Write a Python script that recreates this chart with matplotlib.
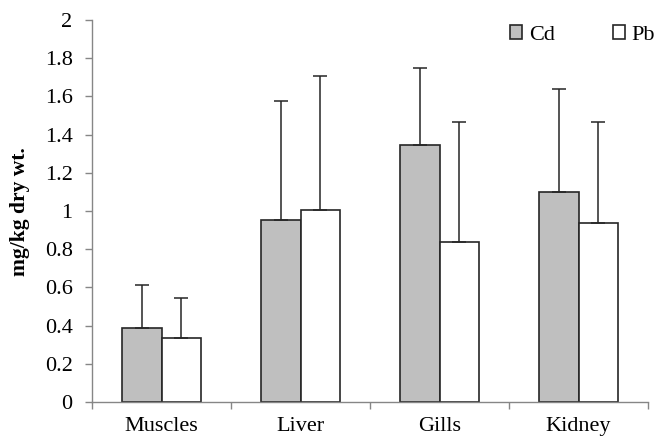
import numpy as np
import matplotlib
matplotlib.use("Agg")
import matplotlib.pyplot as plt

plt.rcParams["font.family"] = ["Liberation Serif", "DejaVu Serif"]

tissues = ["Muscles", "Liver", "Gills", "Kidney"]
cd_mean = [0.385, 0.955, 1.345, 1.10]
cd_err = [0.23, 0.62, 0.405, 0.54]
pb_mean = [0.337, 1.005, 0.837, 0.935]
pb_err = [0.208, 0.70, 0.627, 0.529]

fig = plt.figure(figsize=(6.55, 4.41), dpi=100)
ax = fig.add_axes([0.1405, 0.0884, 0.849, 0.866])

x = np.arange(len(tissues))
w = 0.286
err_style = dict(ecolor="#262626", elinewidth=1.1, capsize=5, capthick=1.1)

ax.bar(x - w / 2, cd_mean, w, color="#bfbfbf", edgecolor="#262626", linewidth=1.2,
       yerr=[np.zeros(len(x)), cd_err], error_kw=err_style, label="Cd", zorder=2)
ax.bar(x + w / 2, pb_mean, w, color="white", edgecolor="#262626", linewidth=1.2,
       yerr=[np.zeros(len(x)), pb_err], error_kw=err_style, label="Pb", zorder=2)

ax.set_xlim(-0.5, len(tissues) - 0.5)
ax.set_ylim(0, 2)
ax.set_yticks(np.arange(0, 2.01, 0.2))
ax.set_yticklabels(["0", "0.2", "0.4", "0.6", "0.8", "1", "1.2", "1.4", "1.6", "1.8", "2"])
ax.set_xticks(x)
ax.set_xticklabels(tissues)
ax.set_xticks(np.arange(-0.5, len(tissues)), minor=True)
ax.tick_params(axis="x", which="major", length=0, labelsize=16, pad=11)
ax.tick_params(axis="x", which="minor", length=5, color="#868686", width=1)
ax.tick_params(axis="y", length=5, color="#868686", width=1, labelsize=16, pad=9)

for side in ["top", "right"]:
    ax.spines[side].set_visible(False)
for side in ["left", "bottom"]:
    ax.spines[side].set_color("#868686")
    ax.spines[side].set_linewidth(1)

ax.set_ylabel("mg/kg dry wt.", fontsize=15.5, fontweight="bold")
ax.yaxis.set_label_coords(-0.112, 0.5)

ax.legend(loc="center right", bbox_to_anchor=(1.0, 1 - 35 / 441),
          bbox_transform=fig.transFigure, ncol=2, frameon=False,
          fontsize=16, handlelength=0.55, handleheight=0.55, handletextpad=0.3,
          columnspacing=2.6, borderaxespad=0.0, borderpad=0.0)

fig.savefig("out.png", dpi=100)
